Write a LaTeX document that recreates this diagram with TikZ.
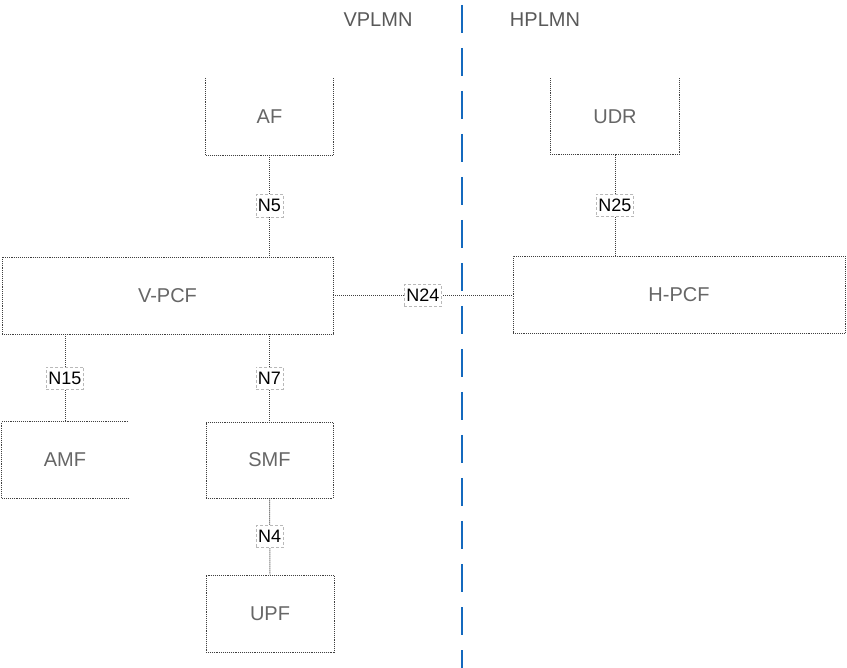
\documentclass[tikz,border=0pt]{standalone}
\usepackage{fontspec}
\setmainfont{Liberation Sans}
\usepackage{xcolor}
\usetikzlibrary{positioning}
\definecolor{divblue}{RGB}{20,105,190}
\tikzset{
  nf/.style={inner sep=0pt, font=\fontsize{20}{22}\selectfont, text=black!60},
  nfbox/.style={nf, draw=black!75, line width=0.9pt, densely dotted},
  nfopen/.style={draw=black!75, line width=0.9pt, densely dotted},
  iflabel/.style={draw=gray!55, densely dashed, line width=0.6pt, fill=white,
    inner xsep=2pt, inner ysep=5pt, font=\fontsize{18}{20}\selectfont},
  ifline/.style={draw=black!75, line width=1pt, densely dotted},
  plmn/.style={font=\fontsize{20}{22}\selectfont, text=black!65}
}

\begin{document}
\begin{tikzpicture}[x=1pt, y=-1pt]
        \useasboundingbox (0,0) rectangle (847,668);

        % network functions
        \node (af) [nf, minimum width=127, minimum height=77] at (269.5,116.5) {AF};
        \node (udr) [nf, minimum width=129, minimum height=76] at (615,116.5) {UDR};
        \node (vpcf) [nfbox, minimum width=331, minimum height=77] at (167.5,295.5) {V-PCF};
        \node (hpcf) [nfbox, minimum width=332, minimum height=77] at (679,295) {H-PCF};
        \node (amf) [nf, minimum width=126, minimum height=76] at (65,460) {AMF};
        \node (smf) [nfbox, minimum width=127, minimum height=76] at (269.5,460) {SMF};
        \node (upf) [nfbox, minimum width=128, minimum height=77] at (270,613.5) {UPF};

        % boxes drawn open on one side
        \draw [nfopen] (af.north west) -- (af.south west) -- (af.south east) -- (af.north east);
        \draw [nfopen] (udr.north west) -- (udr.south west) -- (udr.south east) -- (udr.north east);
        \draw [nfopen] (amf.north east) -- (amf.north west) -- (amf.south west) -- (amf.south east);

        % PLMN border
        \coordinate (divtop) at (462,0);
        \coordinate (divbot) at (462,668);
        \draw [divblue, line width=1.5pt, dash pattern=on 28pt off 15pt, dash phase=38pt] (divtop) -- (divbot);
        \node (vplmn) [plmn] at (378,20) {VPLMN};
        \node (hplmn) [plmn] at (545,20) {HPLMN};

        % reference points
        \draw [ifline] (af.south) -- (af.south |- vpcf.north) node[midway, iflabel] {N5};
        \draw [ifline] (udr.south) -- (udr.south |- hpcf.north) node[midway, iflabel] {N25};
        \draw [ifline] (vpcf.east) -- (vpcf.east -| hpcf.west) node[midway, iflabel] {N24};
        \draw [ifline] (vpcf.south -| amf.north) -- (amf.north) node[midway, iflabel] {N15};
        \draw [ifline] (vpcf.south -| smf.north) -- (smf.north) node[midway, iflabel] {N7};
        \draw [ifline] (smf.south) -- (upf.north) node[midway, iflabel] {N4};
\end{tikzpicture}
\end{document}
